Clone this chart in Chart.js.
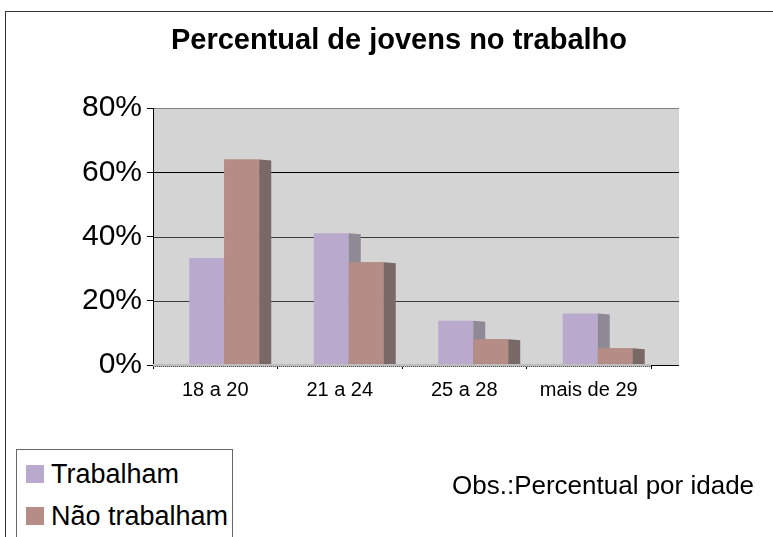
<!DOCTYPE html>
<html>
<head>
<meta charset="utf-8">
<script src="https://cdn.jsdelivr.net/npm/chart.js@4/dist/chart.umd.min.js"></script>
<style>
  body { margin: 0; background: #fff; overflow: hidden; width: 773px; height: 537px; position: relative; font-family: "Liberation Sans", Arial, sans-serif; }
  #frame { position: absolute; left: 5px; top: 11px; width: 900px; height: 700px; border-left: 1px solid #333; border-top: 1px solid #333; }
  #c { position: absolute; left: 0; top: 0; }
  #title { position: absolute; left: 0; width: 798px; top: 22px; text-align: center; font-size: 29px; line-height: 35px; font-weight: bold; color: #000; white-space: nowrap; }
  #legend { position: absolute; left: 16px; top: 449px; width: 215px; height: 87px; border: 1px solid #666; background: #fff; }
  .sw { position: absolute; left: 9px; width: 18px; height: 18px; }
  .lt { position: absolute; left: 34px; font-size: 27px; line-height: 27px; color: #000; white-space: nowrap; }
  #obs { position: absolute; left: 452px; top: 472px; font-size: 26px; line-height: 26px; color: #000; white-space: nowrap; }
</style>
</head>
<body>
<div id="frame"></div>
<canvas id="c" width="773" height="537"></canvas>
<div id="title">Percentual de jovens no trabalho</div>
<div id="legend"></div>
<div id="obs">Obs.:Percentual por idade</div>
<script>
// dados
categories = ['18 a 20', '21 a 24', '25 a 28', 'mais de 29']
trabalham = [33.3, 41, 13.8, 16]
naoTrabalham = [64, 32, 8, 5.2]
seriesNames = ['Trabalham', 'Não trabalham']
yTicks = [0, 20, 40, 60, 80]

faceColors = ['#b8a9cd', '#b58c86']
sideColors = ['#8f8996', '#786967']
depth = 12

// legenda em html
legend = document.getElementById('legend')
seriesNames.forEach((name, i) => {
    top0 = i === 0 ? 15 : 57
    legend.innerHTML += `<div class="sw" style="top:${top0}px;background:${faceColors[i]}"></div>` +
        `<div class="lt" style="top:${top0 - 4}px">${name}</div>`
})

function drawSides(ctx, meta, i) {
    ctx.save()
    ctx.fillStyle = sideColors[i]
    meta.data.forEach(el => {
        const p = el.getProps(['x', 'y', 'base', 'width'], true)
        const r = p.x + p.width / 2
        ctx.beginPath()
        ctx.moveTo(r, p.y)
        ctx.lineTo(r + depth, p.y + 1)
        ctx.lineTo(r + depth, p.base)
        ctx.lineTo(r, p.base)
        ctx.closePath()
        ctx.fill()
    })
    ctx.restore()
}

// parede do fundo, grade, lados 3d e chão
fake3d = {
    id: 'fake3d',
    beforeDraw(chart) {
        const ctx = chart.ctx, a = chart.chartArea, y = chart.scales.y
        ctx.save()
        ctx.fillStyle = '#d4d4d4'
        ctx.fillRect(a.left, a.top, a.right - a.left + 28, a.bottom - a.top)
        yTicks.forEach((v, i) => {
            const py = Math.round(y.getPixelForValue(v)) + 0.5
            ctx.strokeStyle = i === yTicks.length - 1 ? '#808080' : (v === 60 ? '#000' : '#3a3a3a')
            ctx.lineWidth = 1
            ctx.beginPath()
            ctx.moveTo(a.left, py)
            ctx.lineTo(a.right + 28, py)
            ctx.stroke()
        })
        ctx.restore()
    },
    beforeDatasetsDraw(chart) {
        chart.ctx.save()
        chart.ctx.translate(9, 0)
    },
    afterDatasetsDraw(chart) {
        // Trabalham fica atrás: seus lados primeiro, depois Não trabalham por cima
        const ctx = chart.ctx
        drawSides(ctx, chart.getDatasetMeta(0), 0)
        const m1 = chart.getDatasetMeta(1)
        m1.data.forEach(el => el.draw(ctx))
        drawSides(ctx, m1, 1)
        ctx.restore()
    },
    afterDraw(chart) {
        const ctx = chart.ctx, a = chart.chartArea
        ctx.save()
        ctx.fillStyle = '#bdbdbd'
        ctx.fillRect(a.left, a.bottom - 1, a.right - a.left, 3)
        ctx.strokeStyle = '#555'
        ctx.lineWidth = 1
        ctx.setLineDash([1, 1])
        ctx.beginPath()
        ctx.moveTo(a.left, a.bottom + 1.5)
        ctx.lineTo(a.right, a.bottom + 1.5)
        ctx.stroke()
        ctx.setLineDash([])
        ctx.strokeStyle = '#000'
        ctx.beginPath()
        ctx.moveTo(a.right, a.bottom + 0.5)
        ctx.lineTo(a.right + 28, a.bottom + 0.5)
        ctx.stroke()
        ctx.restore()
    }
}

ctx = document.getElementById('c').getContext('2d')
chart = new Chart(ctx, {
    type: 'bar',
    data: {
        labels: categories,
        datasets: [
            { label: seriesNames[0], data: trabalham, backgroundColor: faceColors[0] },
            { label: seriesNames[1], data: naoTrabalham, backgroundColor: faceColors[1] }
        ]
    },
    options: {
        responsive: false,
        animation: false,
        layout: { padding: { left: 0, right: 122, top: 108, bottom: 132 } },
        datasets: { bar: { categoryPercentage: 0.562, barPercentage: 1.0 } },
        plugins: {
            legend: { display: false },
            tooltip: { enabled: false },
            title: { display: false }
        },
        scales: {
            x: {
                grid: { offset: true, drawOnChartArea: false, tickLength: 4, color: '#000' },
                border: { display: true, color: '#555' },
                ticks: { color: '#000', padding: 9, font: { family: 'Liberation Sans', size: 20 } },
                afterFit(s) { s.height = 40 }
            },
            y: {
                min: 0, max: 80,
                afterBuildTicks(s) { s.ticks = yTicks.map(v => ({ value: v })) },
                grid: { drawOnChartArea: false, tickLength: 6, color: '#000' },
                border: { display: true, color: '#000' },
                ticks: { color: '#000', padding: 5, font: { family: 'Liberation Sans', size: 30 }, callback: v => v + '%' },
                afterFit(s) { s.width = 153 }
            }
        }
    },
    plugins: [fake3d]
})
</script>
</body>
</html>
